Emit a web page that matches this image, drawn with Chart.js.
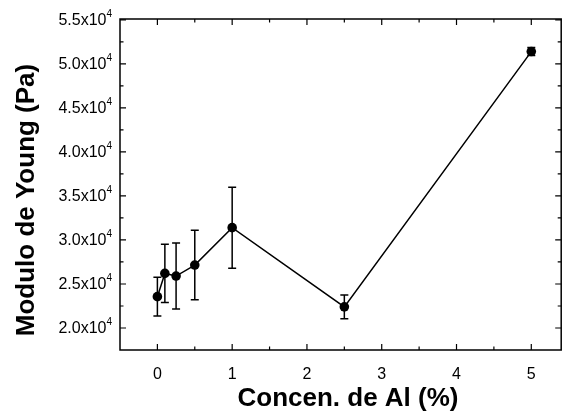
<!DOCTYPE html>
<html>
<head>
<meta charset="UTF-8">
<script src="https://cdn.jsdelivr.net/npm/chart.js"></script>
<style>
  body { margin: 0; background: #fff; }
  #wrap { width: 566px; height: 417px; }
</style>
</head>
<body>
<div id="wrap"><canvas id="c" width="566" height="417"></canvas></div>
<script>
// concentração de Al (%) e módulo de Young (Pa)
const concAl = [0, 0.1, 0.25, 0.5, 1, 2.5, 5];
const modulo = [23560, 26200, 25900, 27150, 31400, 22400, 51400];
const erro = [2200, 3300, 3750, 3950, 4600, 1350, 450];

const xTicks = [0, 1, 2, 3, 4, 5];
const yTicks = [20000, 25000, 30000, 35000, 40000, 45000, 50000, 55000];
const yLabels = ['2.0', '2.5', '3.0', '3.5', '4.0', '4.5', '5.0', '5.5'];

const FONT = '"Liberation Sans", Arial, sans-serif';

// barras de erro, moldura, ticks internos e títulos
const desenho = {
  id: 'desenho',
  afterDatasetsDraw(chart) {
    const c = chart.ctx, xs = chart.scales.x, ys = chart.scales.y, a = chart.chartArea;
    c.save();
    c.strokeStyle = '#000';
    c.lineWidth = 1.5;
    concAl.forEach((x, i) => {
      const px = xs.getPixelForValue(x);
      const top = ys.getPixelForValue(modulo[i] + erro[i]);
      const bot = ys.getPixelForValue(modulo[i] - erro[i]);
      c.beginPath();
      c.moveTo(px, top); c.lineTo(px, bot);
      c.moveTo(px - 4, top); c.lineTo(px + 4, top);
      c.moveTo(px - 4, bot); c.lineTo(px + 4, bot);
      c.stroke();
    });

    // moldura
    c.lineWidth = 1.5;
    c.strokeRect(a.left, a.top, a.right - a.left, a.bottom - a.top);

    // ticks x (principais e secundários)
    c.lineWidth = 1.2;
    for (let v = -0.5; v <= 5.4; v += 0.5) {
      const px = xs.getPixelForValue(v);
      if (px <= a.left + 1 || px >= a.right - 1) continue;
      const len = Number.isInteger(v) ? 6 : 3.5;
      c.beginPath();
      c.moveTo(px, a.bottom); c.lineTo(px, a.bottom - len);
      c.moveTo(px, a.top); c.lineTo(px, a.top + len);
      c.stroke();
    }
    for (let v = 17500; v <= 55100; v += 2500) {
      const py = ys.getPixelForValue(v);
      if (py >= a.bottom - 1 || py <= a.top + 0.5) continue;
      const len = (v % 5000 === 0) ? 6 : 3.5;
      c.beginPath();
      c.moveTo(a.left, py); c.lineTo(a.left + len, py);
      c.moveTo(a.right, py); c.lineTo(a.right - len, py);
      c.stroke();
    }

    // rótulos do eixo y com expoente
    c.fillStyle = '#000';
    c.textBaseline = 'middle';
    yTicks.forEach((v, i) => {
      const py = ys.getPixelForValue(v);
      c.font = '10px ' + FONT;
      const wSup = c.measureText('4').width;
      c.textAlign = 'right';
      const xr = a.left - 8;
      c.fillText('4', xr, py - 6);
      c.font = '16px ' + FONT;
      c.fillText(yLabels[i] + 'x10', xr - wSup, py + 1);
    });

    // títulos
    c.textBaseline = 'alphabetic';
    c.font = 'bold 26px ' + FONT;
    c.textAlign = 'center';
    c.fillText('Concen. de Al (%)', 348, 406);
    c.save();
    c.translate(34, 200);
    c.rotate(-Math.PI / 2);
    c.font = 'bold 26px ' + FONT;
    c.fillText('Modulo de Young (Pa)', 0, 0);
    c.restore();
    c.restore();
  }
};

new Chart(document.getElementById('c'), {
  type: 'line',
  data: {
    datasets: [{
      data: concAl.map((x, i) => ({ x: x, y: modulo[i] })),
      borderColor: '#000',
      backgroundColor: '#000',
      borderWidth: 1.5,
      pointRadius: 4.8,
      pointBorderWidth: 0,
      tension: 0
    }]
  },
  options: {
    responsive: false,
    animation: false,
    layout: { padding: { top: 19, right: 3, left: 0, bottom: 0 } },
    plugins: { legend: { display: false }, tooltip: { enabled: false } },
    scales: {
      x: {
        type: 'linear',
        min: -0.5,
        max: 5.4,
        afterBuildTicks: s => { s.ticks = xTicks.map(v => ({ value: v })); },
        afterFit: s => { s.height = 67; },
        grid: { display: false },
        border: { display: false },
        ticks: {
          color: '#000',
          padding: 7,
          font: { family: FONT, size: 16 },
          callback: v => String(v)
        }
      },
      y: {
        min: 17500,
        max: 55100,
        afterBuildTicks: s => { s.ticks = yTicks.map(v => ({ value: v })); },
        afterFit: s => { s.width = 120; },
        grid: { display: false },
        border: { display: false },
        ticks: { display: false }
      }
    }
  },
  plugins: [desenho]
});
</script>
</body>
</html>
